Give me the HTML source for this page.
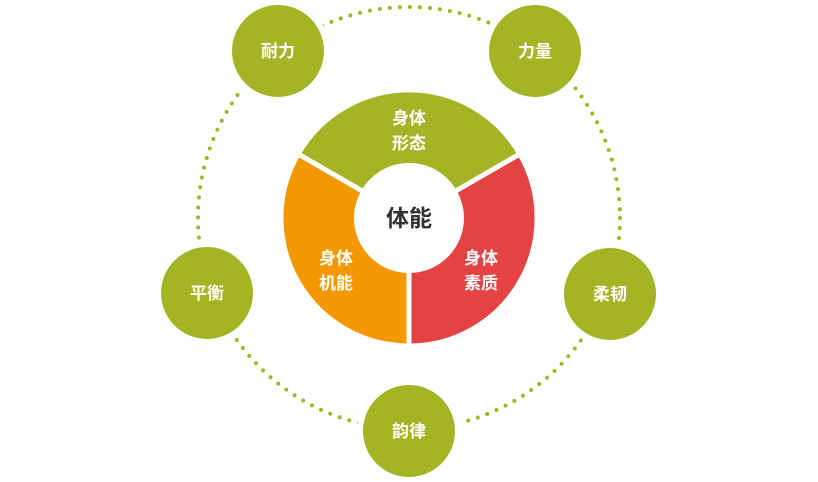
<!DOCTYPE html>
<html><head><meta charset="utf-8"><style>
html,body{margin:0;padding:0;background:#fff;}
svg{display:block;}
text{font-family:"Liberation Sans","Noto Sans CJK SC",sans-serif;font-weight:bold;}
</style></head><body>
<svg width="818" height="482" viewBox="0 0 818 482" xmlns="http://www.w3.org/2000/svg">
<circle cx="409" cy="218" r="211" fill="none" stroke="#a4b424" stroke-width="4" stroke-linecap="round" stroke-dasharray="0 10.05"/>
<g fill="#a4b424" stroke="#fff" stroke-width="6">
<circle cx="278" cy="51" r="49"/>
<circle cx="535" cy="51" r="49"/>
<circle cx="610" cy="294" r="49"/>
<circle cx="409" cy="431" r="49"/>
<circle cx="207" cy="293" r="49"/>
</g>
<g stroke="#fff" stroke-width="5">
<path d="M409,218 L298.1,154 A128,128 0 0 1 519.9,154 Z" fill="#a4b424"/>
<path d="M409,218 L519.9,154 A128,128 0 0 1 409,346 Z" fill="#e54343"/>
<path d="M409,218 L409,346 A128,128 0 0 1 298.1,154 Z" fill="#f39800"/>
</g>
<circle cx="409" cy="218" r="55" fill="#fff"/>
<text x="409" y="226" font-size="23" fill="#333" text-anchor="middle">体能</text>
<g fill="#fff" font-size="17" text-anchor="middle">
<text x="409" y="124">身体</text><text x="409" y="149">形态</text>
<text x="336" y="264">身体</text><text x="336" y="289">机能</text>
<text x="481" y="264">身体</text><text x="481" y="289">素质</text>
<text x="278" y="57">耐力</text>
<text x="535" y="57">力量</text>
<text x="610" y="300">柔韧</text>
<text x="409" y="437">韵律</text>
<text x="207" y="299">平衡</text>
</g>
</svg>
</body></html>
